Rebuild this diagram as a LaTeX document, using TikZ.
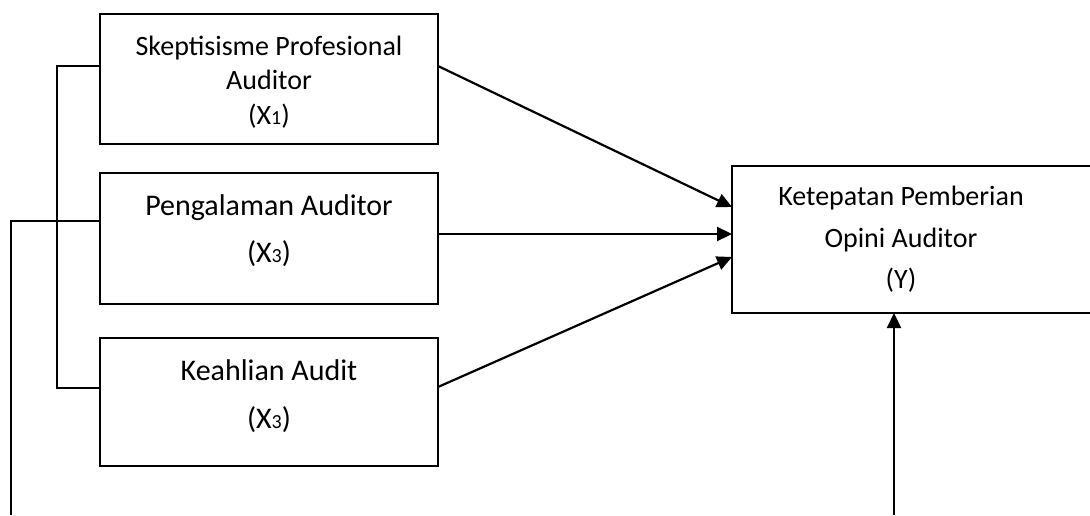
\documentclass[tikz,border=0pt]{standalone}
\usepackage{fontspec}
\setmainfont{Carlito}
\usetikzlibrary{arrows.meta}
\newcommand{\smalldigit}[1]{{\fontsize{20}{20}\selectfont #1}}
\begin{document}
\begin{tikzpicture}[x=1pt,y=-1pt,
  box/.style={draw=black,line width=2.7pt,minimum width=#1,inner sep=0pt},
  txtA/.style={anchor=base,inner sep=0pt,font=\fontsize{28}{28}\selectfont},
  txtB/.style={anchor=base,inner sep=0pt,font=\fontsize{30}{30}\selectfont},
  conn/.style={line width=2.2pt,-{Triangle[length=15pt,width=14pt]}},
  tie/.style={line width=1.4pt}]
\useasboundingbox[fill=white] (0,0) rectangle (1090,515);
% boxes
\node[box=338pt,minimum height=130pt] (b1) at (269,79) {};
\node[box=338pt,minimum height=131pt] (b2) at (269,238.5) {};
\node[box=338pt,minimum height=128pt] (b3) at (269,402) {};
\node[box=362pt,minimum height=147pt] (y) at (913,239.5) {};
% texts
\node[txtA] (t1a) at (269,55) {Skeptisisme Profesional};
\node[txtA] (t1b) at (269,89) {Auditor};
\node[txtA] (t1c) at (269,124) {(X\smalldigit{1})};
\node[txtB] (t2a) at (269,215) {Pengalaman Auditor};
\node[txtB] (t2b) at (269,262) {(X\smalldigit{3})};
\node[txtB] (t3a) at (269,380) {Keahlian Audit};
\node[txtB] (t3b) at (269,428) {(X\smalldigit{3})};
\node[txtA] (tya) at (901,205) {Ketepatan Pemberian};
\node[txtA] (tyb) at (901,247) {Opini Auditor};
\node[txtA] (tyc) at (901,288) {(Y)};
% coordinates
\coordinate (a1s) at (438,66);
\coordinate (a1e) at (732,207);
\coordinate (a2s) at (438,234);
\coordinate (a2e) at (732,234);
\coordinate (a3s) at (438,387);
\coordinate (a3e) at (732,257);
\coordinate (bs) at (894,515);
\coordinate (be) at (894,313);
\coordinate (l1) at (100,66);
\coordinate (l2) at (100,221);
\coordinate (l3) at (100,388);
\coordinate (v1) at (57,66);
\coordinate (v3) at (57,388);
\coordinate (o2) at (11,221);
\coordinate (ob) at (11,515);
% arrows
\draw[conn] (a1s) -- (a1e);
\draw[conn] (a2s) -- (a2e);
\draw[conn] (a3s) -- (a3e);
\draw[conn] (bs) -- (be);
% ties
\draw[tie] (l1) -- (v1) -- (v3) -- (l3);
\draw[tie] (l2) -- (o2) -- (ob);
\end{tikzpicture}
\end{document}
